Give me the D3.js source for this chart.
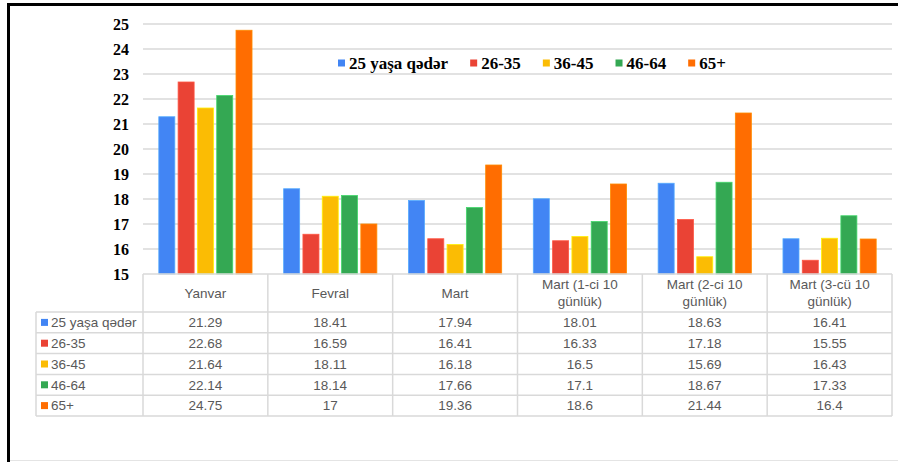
<!DOCTYPE html>
<html>
<head>
<meta charset="utf-8">
<script src="https://cdn.jsdelivr.net/npm/d3@7"></script>
<style>
  body { margin: 0; background: #fff; }
  svg { display: block; }
</style>
</head>
<body>
<svg id="chart"></svg>
<script>
// data
const categories = [
  ["Yanvar"],
  ["Fevral"],
  ["Mart"],
  ["Mart (1-ci 10", "günlük)"],
  ["Mart (2-ci 10", "günlük)"],
  ["Mart (3-cü 10", "günlük)"]
];
const seriesNames = ["25 yaşa qədər", "26-35", "36-45", "46-64", "65+"];
const seriesColors = ["#4285f4", "#ea4335", "#fbbc04", "#34a853", "#ff6d01"];
const values = [
  ["21.29", "18.41", "17.94", "18.01", "18.63", "16.41"],
  ["22.68", "16.59", "16.41", "16.33", "17.18", "15.55"],
  ["21.64", "18.11", "16.18", "16.5", "15.69", "16.43"],
  ["22.14", "18.14", "17.66", "17.1", "18.67", "17.33"],
  ["24.75", "17", "19.36", "18.6", "21.44", "16.4"]
];
const yTicks = [15, 16, 17, 18, 19, 20, 21, 22, 23, 24, 25];

const W = 898, H = 462;
const plot = { left: 143, right: 892, top: 24, bottom: 274 };
const headerH = 38, rowH = 20.8, tableLeft = 36;
const gridColor = "#d9d9d9";
const serif = "'Liberation Serif', 'Times New Roman', serif";

const svg = d3.select("#chart").attr("width", W).attr("height", H);

// frame
svg.append("rect").attr("x", 7).attr("y", 3).attr("width", W - 7).attr("height", 3).attr("fill", "#000");
svg.append("rect").attr("x", 7).attr("y", 3).attr("width", 3).attr("height", H - 3).attr("fill", "#000");
svg.append("line").attr("x1", 10).attr("x2", W).attr("y1", 460.5).attr("y2", 460.5)
  .attr("stroke", "#e4e4e4").attr("stroke-width", 1);

const catIdx = d3.range(categories.length);
const x0 = d3.scaleBand().domain(catIdx).range([plot.left, plot.right]);
const groupW = 96.5;
const x1 = d3.scaleBand().domain(d3.range(seriesNames.length))
  .range([0, groupW]).paddingInner(0.17).paddingOuter(0.085);
const y = d3.scaleLinear().domain([15, 25]).range([plot.bottom, plot.top]);

// gridlines
svg.append("g").selectAll("line")
  .data(yTicks.slice(1))
  .join("line")
  .attr("x1", plot.left).attr("x2", plot.right)
  .attr("y1", d => y(d)).attr("y2", d => y(d))
  .attr("stroke", gridColor).attr("stroke-width", 1.5);

// y axis labels
const yAxis = d3.axisLeft(y).tickValues(yTicks).tickSize(0).tickPadding(0).tickFormat(d3.format("d"));
const yg = svg.append("g").attr("transform", `translate(129,0)`).call(yAxis);
yg.select(".domain").remove();
yg.selectAll("text")
  .attr("font-family", serif)
  .attr("font-weight", "bold").attr("font-size", 16).attr("fill", "#000")
  .attr("dy", "0.36em");

// bars
const barData = [];
seriesNames.forEach((s, si) => {
  values[si].forEach((v, ci) => barData.push({ si, ci, v: +v }));
});
svg.append("g").selectAll("rect")
  .data(barData)
  .join("rect")
  .attr("x", d => x0(d.ci) + (x0.bandwidth() - groupW) / 2 + x1(d.si))
  .attr("width", x1.bandwidth())
  .attr("y", d => y(d.v))
  .attr("height", d => y(15) - y(d.v))
  .attr("fill", d => seriesColors[d.si])
  .attr("stroke", d => d3.color(seriesColors[d.si]).brighter(0.7))
  .attr("stroke-width", 0.8);

// legend
const legend = svg.append("g").attr("transform", "translate(338,63)");
let lx = 0;
seriesNames.forEach((s, i) => {
  const g = legend.append("g").attr("transform", `translate(${lx},0)`);
  g.append("rect").attr("x", 0).attr("y", -3.5).attr("width", 7).attr("height", 7).attr("fill", seriesColors[i]);
  const t = g.append("text").attr("x", 11).attr("y", 5.5)
    .attr("font-family", serif)
    .attr("font-weight", "bold").attr("font-size", 17).attr("fill", "#000")
    .text(s);
  lx += 11 + t.node().getComputedTextLength() + 22;
});

// data table
const table = svg.append("g");
const tableBottom = plot.bottom + headerH + rowH * seriesNames.length;
const lineStyle = sel => sel.attr("stroke", gridColor).attr("stroke-width", 1.5).attr("fill", "none");

// horizontal lines
table.append("line").call(lineStyle)
  .attr("x1", plot.left).attr("x2", plot.right).attr("y1", plot.bottom).attr("y2", plot.bottom);
d3.range(seriesNames.length + 1).forEach(r => {
  const yy = plot.bottom + headerH + r * rowH;
  table.append("line").call(lineStyle)
    .attr("x1", tableLeft).attr("x2", plot.right).attr("y1", yy).attr("y2", yy);
});
// vertical lines
table.append("line").call(lineStyle)
  .attr("x1", tableLeft).attr("x2", tableLeft)
  .attr("y1", plot.bottom + headerH).attr("y2", tableBottom);
catIdx.concat([categories.length]).forEach(c => {
  const xx = c < categories.length ? x0(c) : plot.right;
  table.append("line").call(lineStyle)
    .attr("x1", xx).attr("x2", xx).attr("y1", plot.bottom).attr("y2", tableBottom);
});

const tFont = "'Liberation Sans', Arial, sans-serif";
const tColor = "#595959";

// header labels
categories.forEach((lines, ci) => {
  const cx = x0(ci) + x0.bandwidth() / 2;
  const midY = plot.bottom + headerH / 2;
  const t = table.append("text")
    .attr("text-anchor", "middle").attr("font-family", tFont).attr("font-size", 13.5).attr("fill", tColor);
  lines.forEach((ln, li) => {
    t.append("tspan").attr("x", cx)
      .attr("y", midY + (li - (lines.length - 1) / 2) * 17)
      .attr("dy", "0.36em").text(ln);
  });
});

// rows
seriesNames.forEach((s, si) => {
  const cy = plot.bottom + headerH + si * rowH + rowH / 2;
  table.append("rect").attr("x", 41).attr("y", cy - 3.5).attr("width", 7).attr("height", 7)
    .attr("fill", seriesColors[si]);
  table.append("text").attr("x", 51).attr("y", cy).attr("dy", "0.36em")
    .attr("font-family", tFont).attr("font-size", 13.5).attr("fill", tColor).text(s);
  values[si].forEach((v, ci) => {
    table.append("text").attr("x", x0(ci) + x0.bandwidth() / 2).attr("y", cy).attr("dy", "0.36em")
      .attr("text-anchor", "middle").attr("font-family", tFont).attr("font-size", 13.5)
      .attr("fill", tColor).text(v);
  });
});
</script>
</body>
</html>
